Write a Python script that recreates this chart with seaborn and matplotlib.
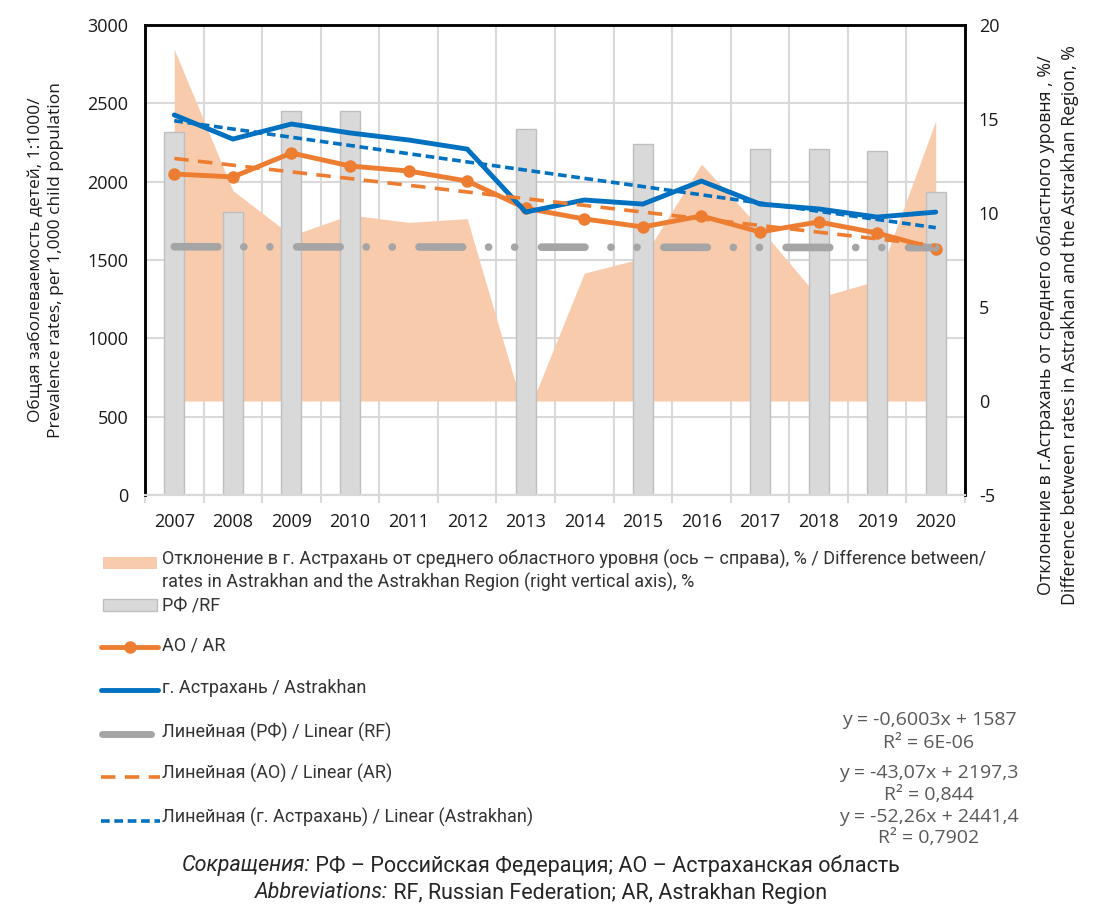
import numpy as np
import pandas as pd
import seaborn as sns
import matplotlib.pyplot as plt
from matplotlib.lines import Line2D
from matplotlib.patches import Rectangle

# values
years = [str(y) for y in range(2007, 2021)]
rf = [2317, 1806, 2451, 2451, 0, 0, 2336, 0, 2240, 0, 2208, 2208, 2196, 1934]
ao = [2049, 2030, 2183, 2100, 2068, 2004, 1830, 1762, 1711, 1781, 1679, 1743, 1672, 1570]
astrakhan = [2426, 2272, 2368, 2311, 2266, 2208, 1806, 1883, 1857, 2004, 1857, 1826, 1774, 1806]
deviation = [18.7, 11.2, 8.8, 9.9, 9.5, 9.7, -0.9, 6.8, 7.6, 12.6, 9.2, 5.5, 6.4, 14.9]

left_ticks = [0, 500, 1000, 1500, 2000, 2500, 3000]
right_ticks = [-5, 0, 5, 10, 15, 20]

equations = [
    "y = -0,6003x + 1587", "R² = 6E-06",
    "y = -43,07x + 2197,3", "R² = 0,844",
    "y = -52,26x + 2441,4", "R² = 0,7902",
]

legend_labels = [
    "Отклонение в г. Астрахань от среднего областного уровня (ось – справа), % / Difference between/\n"
    "rates in Astrakhan and the Astrakhan Region (right vertical axis), %",
    "РФ /RF",
    "АО / AR",
    "г. Астрахань / Astrakhan",
    "Линейная (РФ) / Linear (RF)",
    "Линейная (АО) / Linear (AR)",
    "Линейная (г. Астрахань) / Linear (Astrakhan)",
]

notes = [
    ("Сокращения:", " РФ – Российская Федерация; АО – Астраханская область"),
    ("Abbreviations:", " RF, Russian Federation; AR, Astrakhan Region"),
]

ORANGE = "#ED7D31"
BLUE = "#0070C0"
GRAY = "#A5A5A5"
AREA = "#F8CBAD"
BAR = "#D9D9D9"
BAR_EDGE = "#BFBFBF"
GRID = "#D9D9D9"
TEXT = "#1a1a1a"

W, H = 1100, 914


def fx(px):
    return px / W


def fy(py):
    return 1 - py / H


sns.set_theme(style="white")
plt.rcParams["font.family"] = ["Open Sans", "DejaVu Sans"]
plt.rcParams["axes.unicode_minus"] = False

df = pd.DataFrame({
    "year": years,
    "pos": np.arange(len(years)),
    "rf": rf,
    "ao": ao,
    "astrakhan": astrakhan,
    "dev": deviation,
})

fig = plt.figure(figsize=(11, 9.14), dpi=100)
ax = fig.add_axes([fx(145), fy(495), fx(965) - fx(145), fy(25) - fy(495)])
ax2 = ax.twinx()
ax2.set_ylim(-5, 20)

# deviation area belongs to the right axis but sits behind the bars
ax.fill_between(df["pos"], 0, df["dev"], color=AREA, lw=0,
                transform=ax2.transData, zorder=0.8)

sns.barplot(data=df, x="year", y="rf", color=BAR, saturation=1, width=0.34,
            edgecolor=BAR_EDGE, linewidth=1, ax=ax, zorder=1)

sns.lineplot(data=df, x="pos", y="ao", color=ORANGE, lw=3.5, marker="o",
             markersize=9, markeredgewidth=0, ax=ax, zorder=3)
sns.lineplot(data=df, x="pos", y="astrakhan", color=BLUE, lw=3.5, ax=ax, zorder=3)

# linear trends
sns.regplot(data=df, x="pos", y="rf", scatter=False, ci=None, color=GRAY, ax=ax,
            line_kws=dict(lw=5.5, dashes=(5.7, 3.4, 0.01, 3.4, 0.01, 3.5),
                          dash_capstyle="round", zorder=4))
sns.regplot(data=df, x="pos", y="ao", scatter=False, ci=None, color=ORANGE, ax=ax,
            line_kws=dict(lw=2.6, dashes=(4, 2.6), zorder=4))
sns.regplot(data=df, x="pos", y="astrakhan", scatter=False, ci=None, color=BLUE, ax=ax,
            line_kws=dict(lw=2.6, dashes=(2.4, 1.3), zorder=4))

ax.set_xlim(-0.5, len(years) - 0.5)
ax.set_ylim(0, 3000)
ax.set_xticks(df["pos"])
ax.set_xticklabels(years)
ax.set_xticks(np.arange(-0.5, len(years), 1), minor=True)
ax.set_yticks(left_ticks)
ax.set_xlabel("")
ax.set_ylabel("")
ax.set_axisbelow(True)
ax.grid(axis="x", which="minor", color=GRID, lw=1.5)
ax.grid(axis="y", which="major", color=GRID, lw=1.5)
ax.tick_params(axis="x", which="major", length=0, pad=13, labelsize=13, labelcolor=TEXT)
ax.tick_params(axis="x", which="minor", length=6, width=1.5, color=GRID, bottom=True)
ax.tick_params(axis="y", length=0, pad=12, labelsize=13, labelcolor=TEXT, left=True)

ax2.set_yticks(right_ticks)
ax2.tick_params(axis="y", length=0, pad=10, labelsize=13, labelcolor=TEXT)
ax2.grid(False)

for a in (ax, ax2):
    for side in ("left", "top", "right"):
        a.spines[side].set_color("black")
        a.spines[side].set_linewidth(1.8)
    a.spines["bottom"].set_color(GRID)
    a.spines["bottom"].set_linewidth(1.5)

fig.text(fx(46), fy(260),
         "Общая заболеваемость детей, 1:1000/\nPrevalence rates, per 1,000 child population",
         rotation=90, ha="center", va="center", multialignment="center",
         fontsize=12.5, linespacing=1.35, color=TEXT)
fig.text(fx(1058), fy(325),
         "Отклонение в г.Астрахань от среднего областного уровня , %/\n"
         "Difference between rates in Astrakhan and the Astrakhan Region, %",
         rotation=90, ha="center", va="center", multialignment="center",
         fontsize=12.8, linespacing=1.4, color=TEXT)

# legend drawn by hand to keep the uneven row spacing of the original
LEG_FONT = ["Roboto", "DejaVu Sans"]
text_x = fx(162)
rows = [571, 605, 646, 688, 732, 773, 817]
for label, row in zip(legend_labels, rows):
    fig.text(text_x, fy(row), label, ha="left", va="center", fontsize=13,
             family=LEG_FONT, color="#333333", linespacing=1.25)

fig.add_artist(Rectangle((fx(103), fy(569)), fx(157) - fx(103), fy(557) - fy(569),
                         transform=fig.transFigure, facecolor=AREA, edgecolor="none"))
fig.add_artist(Rectangle((fx(103), fy(611)), fx(157) - fx(103), fy(599) - fy(611),
                         transform=fig.transFigure, facecolor=BAR, edgecolor=BAR_EDGE, lw=1))
fig.add_artist(Line2D([fx(101), fx(130), fx(158)], [fy(647)] * 3, transform=fig.transFigure,
                      color=ORANGE, lw=3.5, marker="o", markersize=9, markeredgewidth=0,
                      markevery=[1]))
fig.add_artist(Line2D([fx(101), fx(158)], [fy(690)] * 2, transform=fig.transFigure,
                      color=BLUE, lw=3.5, solid_capstyle="round"))
fig.add_artist(Line2D([fx(102), fx(151)], [fy(734)] * 2, transform=fig.transFigure,
                      color=GRAY, lw=5, solid_capstyle="round"))
fig.add_artist(Line2D([fx(101), fx(160)], [fy(777)] * 2, transform=fig.transFigure,
                      color=ORANGE, lw=2.6, dashes=(4, 2.6)))
fig.add_artist(Line2D([fx(101), fx(160)], [fy(821)] * 2, transform=fig.transFigure,
                      color=BLUE, lw=2.6, dashes=(2.4, 1.3)))

eq_rows = [720, 743, 773, 795, 817, 838]
for s, row in zip(equations, eq_rows):
    fig.text(fx(929), fy(row), s, ha="center", va="center", fontsize=14, color="#595959")

# footnote: italic lead-in followed by plain text, each line centred as a whole
NOTE_FONT = ["Roboto", "DejaVu Sans"]
renderer = fig.canvas.get_renderer()
for (lead, rest), row in zip(notes, [866, 893]):
    t1 = fig.text(0, fy(row), lead, ha="left", va="center", fontsize=15.5,
                  style="italic", family=NOTE_FONT, color="#262626")
    t2 = fig.text(0, fy(row), rest, ha="left", va="center", fontsize=15.5,
                  family=NOTE_FONT, color="#262626")
    w1 = t1.get_window_extent(renderer).width
    w2 = t2.get_window_extent(renderer).width
    start = 541 - (w1 + w2) / 2
    t1.set_x(fx(start))
    t2.set_x(fx(start + w1))

fig.savefig("out.png", dpi=100, facecolor="white")
